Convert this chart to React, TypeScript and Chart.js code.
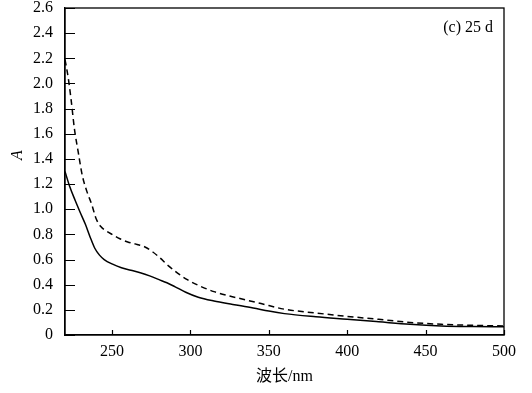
import React, { useEffect, useRef } from 'react';
import { Chart, registerables } from 'chart.js';
Chart.register(...registerables);

const solidX = [220, 223, 226.5, 229.5, 233, 236, 239, 242, 245, 250, 256, 262, 268, 274, 280, 285, 290, 297, 305, 315, 327, 340, 350, 360, 380, 400, 420, 440, 460, 480, 500];
const solidY = [1.30, 1.18, 1.07, 0.98, 0.88, 0.78, 0.69, 0.635, 0.60, 0.565, 0.535, 0.515, 0.495, 0.47, 0.44, 0.415, 0.385, 0.34, 0.30, 0.27, 0.243, 0.215, 0.19, 0.17, 0.145, 0.125, 0.105, 0.085, 0.072, 0.067, 0.065];
const dashX = [220, 222, 224, 226, 228.5, 231, 234, 237, 240, 243, 246, 250, 255, 260, 266, 271, 276, 280, 286, 292, 298, 305, 315, 325, 335, 345, 360, 380, 400, 420, 440, 460, 480, 500];
const dashY = [2.19, 2.05, 1.86, 1.64, 1.45, 1.27, 1.14, 1.04, 0.92, 0.86, 0.83, 0.80, 0.765, 0.74, 0.72, 0.70, 0.66, 0.62, 0.55, 0.49, 0.44, 0.395, 0.345, 0.31, 0.28, 0.25, 0.205, 0.175, 0.148, 0.125, 0.10, 0.085, 0.077, 0.072];
const xTicks = [250, 300, 350, 400, 450, 500];
const yTicks = [0, 0.2, 0.4, 0.6, 0.8, 1.0, 1.2, 1.4, 1.6, 1.8, 2.0, 2.2, 2.4, 2.6];
const xTitle = '波长/nm';
const yTitle = 'A';
const note = '(c) 25 d';

const FONT = '"Liberation Serif", "Noto Sans CJK SC", serif';

export default function App() {
  const ref = useRef<HTMLCanvasElement>(null);
  useEffect(() => {
    document.body.style.margin = '0';
    const frame = {
      id: 'frame',
      afterDraw(chart: any) {
        const { ctx, chartArea: a, scales } = chart;
        ctx.save();
        ctx.strokeStyle = '#000';
        ctx.lineWidth = 1.3;
        ctx.strokeRect(a.left, a.top, a.right - a.left, a.bottom - a.top);
        ctx.lineWidth = 1.2;
        ctx.beginPath();
        for (const v of xTicks) {
          const px = Math.round(scales.x.getPixelForValue(v)) + 0.5;
          ctx.moveTo(px, a.bottom);
          ctx.lineTo(px, a.bottom - 5);
        }
        for (const v of yTicks) {
          const py = Math.round(scales.y.getPixelForValue(v)) + 0.5;
          ctx.moveTo(a.left, py);
          ctx.lineTo(a.left + 10, py);
        }
        ctx.stroke();
        ctx.fillStyle = '#000';
        ctx.font = `16px ${FONT}`;
        ctx.textAlign = 'right';
        ctx.textBaseline = 'middle';
        ctx.fillText(note, 493, 28);
        ctx.textAlign = 'center';
        ctx.fillText(xTitle, (a.left + a.right) / 2, 377);
        ctx.translate(18, 155);
        ctx.rotate(-Math.PI / 2);
        ctx.font = `italic 16px ${FONT}`;
        ctx.fillText(yTitle, 0, 0);
        ctx.restore();
      },
    };
    const chart = new Chart(ref.current!, {
      type: 'line',
      data: {
        datasets: [
          {
            data: solidX.map((x, i) => ({ x, y: solidY[i] })),
            borderColor: '#000',
            borderWidth: 1.5,
            pointRadius: 0,
            cubicInterpolationMode: 'monotone',
            fill: false,
          },
          {
            data: dashX.map((x, i) => ({ x, y: dashY[i] })),
            borderColor: '#000',
            borderWidth: 1.5,
            borderDash: [6, 4],
            pointRadius: 0,
            cubicInterpolationMode: 'monotone',
            fill: false,
          },
        ],
      },
      options: {
        responsive: false,
        animation: false,
        layout: { padding: { left: 0, top: 8, right: 28, bottom: 0 } },
        plugins: { legend: { display: false }, tooltip: { enabled: false } },
        scales: {
          x: {
            type: 'linear',
            min: 220,
            max: 500,
            grid: { display: false, drawTicks: false },
            border: { display: true, color: '#000', width: 1.3 },
            afterBuildTicks: (s: any) => { s.ticks = xTicks.map((v) => ({ value: v })); },
            afterFit: (s: any) => { s.height = 58; s.paddingLeft = 0; s.paddingRight = 0; },
            ticks: { color: '#000', font: { family: FONT, size: 16 }, padding: 7, maxRotation: 0, autoSkip: false },
          },
          y: {
            type: 'linear',
            min: 0,
            max: 2.6,
            grid: { display: false, drawTicks: false },
            border: { display: true, color: '#000', width: 1.3 },
            afterBuildTicks: (s: any) => { s.ticks = yTicks.map((v) => ({ value: v })); },
            afterFit: (s: any) => { s.width = 65; s.paddingTop = 0; s.paddingBottom = 0; },
            ticks: {
              color: '#000',
              font: { family: FONT, size: 16 },
              padding: 12,
              autoSkip: false,
              callback: (v: any) => (Number(v) === 0 ? '0' : Number(v).toFixed(1)),
            },
          },
        },
      },
      plugins: [frame],
    });
    return () => chart.destroy();
  }, []);
  return (
    <div style={{ width: 532, height: 393, background: '#fff' }}>
      <canvas ref={ref} width={532} height={393} />
    </div>
  );
}
